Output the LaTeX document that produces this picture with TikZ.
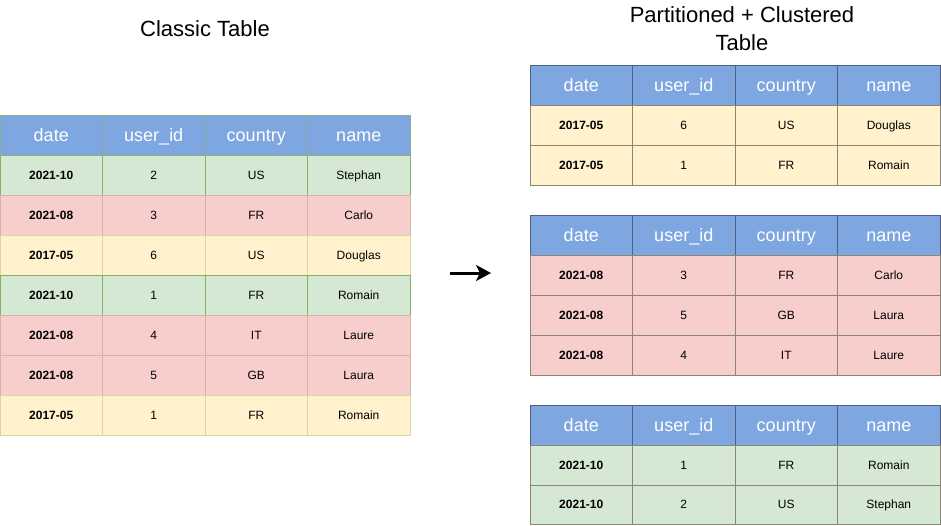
\documentclass[tikz,border=0pt]{standalone}
\usepackage{fontspec}
\setmainfont{Liberation Sans}
\usepackage{tikz}
\usetikzlibrary{arrows.meta}

\definecolor{hdrblue}{HTML}{7EA6E0}
\definecolor{rowgreen}{HTML}{D5E8D4}
\definecolor{rowred}{HTML}{F8CECC}
\definecolor{rowyellow}{HTML}{FFF2CC}
\definecolor{edgegreen}{HTML}{82B366}
\definecolor{edgered}{HTML}{D6B3A3}
\definecolor{edgeyellow}{HTML}{D6D6A5}
\definecolor{edgehead}{HTML}{8AAE90}
\definecolor{edgedark}{HTML}{8C8676}
\definecolor{edgedarkhead}{HTML}{4F6282}

\begin{document}
\begin{tikzpicture}[x=1pt, y=-1pt,
        cell/.style={minimum width=102.5pt, minimum height=40pt, inner sep=0pt, line width=1pt, text height=11pt, text depth=2.4pt, font=\fontsize{12}{14}\selectfont},
        head/.style={cell, fill=hdrblue, draw=edgehead, text=white, text height=16pt, text depth=3pt, font=\fontsize{18}{20}\selectfont},
        greenrow/.style={cell, fill=rowgreen, draw=edgegreen},
        redrow/.style={cell, fill=rowred, draw=edgered},
        yellowrow/.style={cell, fill=rowyellow, draw=edgeyellow},
        dk/.style={draw=edgedark},
        dkhead/.style={draw=edgedarkhead},
        datecell/.style={font=\fontsize{12}{14}\selectfont\bfseries},
        title/.style={align=center, font=\fontsize{22}{28}\selectfont}]
        \useasboundingbox (0,0) rectangle (941,525);

        % titles
        \node[title] at (205, 29) (tL) {Classic Table};
        \node[title] at (742, 29) (tR) {Partitioned + Clustered\\Table};

        % classic table
        \node[head] at (51.25, 135) (L01) {date};    \node[head] at (153.75, 135) (L02) {user\_id}; \node[head] at (256.25, 135) (L03) {country}; \node[head] at (358.75, 135) (L04) {name};
        \node[greenrow, datecell] at (51.25, 175) (L11) {2021-10}; \node[greenrow] at (153.75, 175) (L12) {2}; \node[greenrow] at (256.25, 175) (L13) {US}; \node[greenrow] at (358.75, 175) (L14) {Stephan};
        \node[redrow, datecell] at (51.25, 215) (L21) {2021-08}; \node[redrow] at (153.75, 215) (L22) {3}; \node[redrow] at (256.25, 215) (L23) {FR}; \node[redrow] at (358.75, 215) (L24) {Carlo};
        \node[yellowrow, datecell] at (51.25, 255) (L31) {2017-05}; \node[yellowrow] at (153.75, 255) (L32) {6}; \node[yellowrow] at (256.25, 255) (L33) {US}; \node[yellowrow] at (358.75, 255) (L34) {Douglas};
        \node[greenrow, datecell] at (51.25, 295) (L41) {2021-10}; \node[greenrow] at (153.75, 295) (L42) {1}; \node[greenrow] at (256.25, 295) (L43) {FR}; \node[greenrow] at (358.75, 295) (L44) {Romain};
        \node[redrow, datecell] at (51.25, 335) (L51) {2021-08}; \node[redrow] at (153.75, 335) (L52) {4}; \node[redrow] at (256.25, 335) (L53) {IT}; \node[redrow] at (358.75, 335) (L54) {Laure};
        \node[redrow, datecell] at (51.25, 375) (L61) {2021-08}; \node[redrow] at (153.75, 375) (L62) {5}; \node[redrow] at (256.25, 375) (L63) {GB}; \node[redrow] at (358.75, 375) (L64) {Laura};
        \node[yellowrow, datecell] at (51.25, 415) (L71) {2017-05}; \node[yellowrow] at (153.75, 415) (L72) {1}; \node[yellowrow] at (256.25, 415) (L73) {FR}; \node[yellowrow] at (358.75, 415) (L74) {Romain};

        % arrow
        \coordinate (aS) at (450, 273);
        \coordinate (aE) at (491, 273);
        \draw [-{Stealth[length=15pt, width=16pt, inset=4pt]}, line width=3pt] (aS) -- (aE);

        % partition 2017-05
        \node[head, dkhead] at (581.25, 85) (A01) {date}; \node[head, dkhead] at (683.75, 85) (A02) {user\_id}; \node[head, dkhead] at (786.25, 85) (A03) {country}; \node[head, dkhead] at (888.75, 85) (A04) {name};
        \node[yellowrow, dk, datecell] at (581.25, 125) (A11) {2017-05}; \node[yellowrow, dk] at (683.75, 125) (A12) {6}; \node[yellowrow, dk] at (786.25, 125) (A13) {US}; \node[yellowrow, dk] at (888.75, 125) (A14) {Douglas};
        \node[yellowrow, dk, datecell] at (581.25, 165) (A21) {2017-05}; \node[yellowrow, dk] at (683.75, 165) (A22) {1}; \node[yellowrow, dk] at (786.25, 165) (A23) {FR}; \node[yellowrow, dk] at (888.75, 165) (A24) {Romain};

        % partition 2021-08
        \node[head, dkhead] at (581.25, 235) (B01) {date}; \node[head, dkhead] at (683.75, 235) (B02) {user\_id}; \node[head, dkhead] at (786.25, 235) (B03) {country}; \node[head, dkhead] at (888.75, 235) (B04) {name};
        \node[redrow, dk, datecell] at (581.25, 275) (B11) {2021-08}; \node[redrow, dk] at (683.75, 275) (B12) {3}; \node[redrow, dk] at (786.25, 275) (B13) {FR}; \node[redrow, dk] at (888.75, 275) (B14) {Carlo};
        \node[redrow, dk, datecell] at (581.25, 315) (B21) {2021-08}; \node[redrow, dk] at (683.75, 315) (B22) {5}; \node[redrow, dk] at (786.25, 315) (B23) {GB}; \node[redrow, dk] at (888.75, 315) (B24) {Laura};
        \node[redrow, dk, datecell] at (581.25, 355) (B31) {2021-08}; \node[redrow, dk] at (683.75, 355) (B32) {4}; \node[redrow, dk] at (786.25, 355) (B33) {IT}; \node[redrow, dk] at (888.75, 355) (B34) {Laure};

        % partition 2021-10
        \node[head, dkhead] at (581.25, 425) (C01) {date}; \node[head, dkhead] at (683.75, 425) (C02) {user\_id}; \node[head, dkhead] at (786.25, 425) (C03) {country}; \node[head, dkhead] at (888.75, 425) (C04) {name};
        \node[greenrow, dk, datecell] at (581.25, 465) (C11) {2021-10}; \node[greenrow, dk] at (683.75, 465) (C12) {1}; \node[greenrow, dk] at (786.25, 465) (C13) {FR}; \node[greenrow, dk] at (888.75, 465) (C14) {Romain};
        \node[greenrow, dk, datecell, minimum height=39pt] at (581.25, 504.5) (C21) {2021-10}; \node[greenrow, dk, minimum height=39pt] at (683.75, 504.5) (C22) {2}; \node[greenrow, dk, minimum height=39pt] at (786.25, 504.5) (C23) {US}; \node[greenrow, dk, minimum height=39pt] at (888.75, 504.5) (C24) {Stephan};
    \end{tikzpicture}
\end{document}
